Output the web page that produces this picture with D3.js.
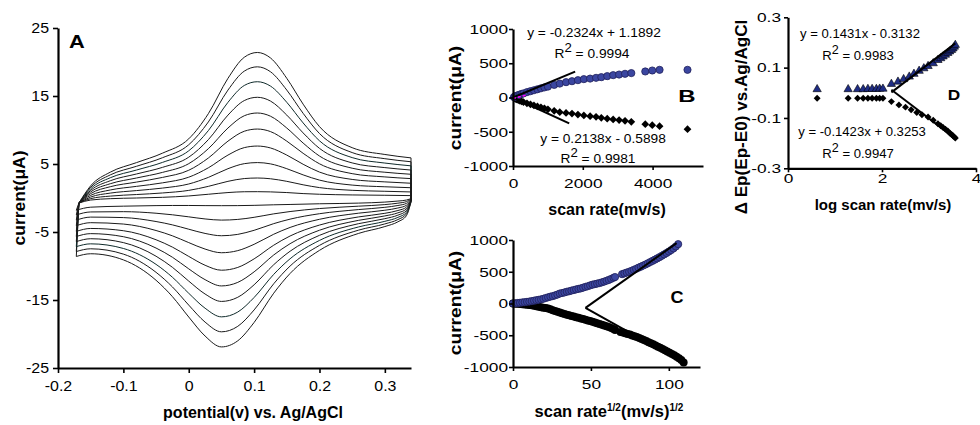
<!DOCTYPE html>
<html>
<head>
<meta charset="utf-8">
<script src="https://cdn.jsdelivr.net/npm/d3@7"></script>
<style>
body { margin: 0; background: #fff; }
svg { display: block; }
text { font-family: "Liberation Sans", Arial, sans-serif; fill: #000; }
</style>
</head>
<body>
<svg id="chart" width="980" height="425"></svg>
<script>
// ---- panel A: cyclic voltammograms (potential V, current uA) ----
const cvAnodicE = [-0.168, -0.15, -0.12, -0.08, -0.04, 0, 0.03, 0.06, 0.085, 0.105, 0.125, 0.15, 0.175, 0.2, 0.25, 0.3, 0.34];
const cvAnodic = [
	[-0.74, 1.8, 3.8, 5.2, 6.6, 8.7, 12.4, 17.6, 20.7, 21.4, 20.6, 17.6, 13.8, 10.5, 7.4, 6.4, 5.9],
	[-0.74, 1.58, 3.4, 4.66, 5.93, 7.83, 11.18, 15.87, 18.66, 19.29, 18.57, 15.87, 12.45, 9.48, 6.68, 5.78, 5.33],
	[-0.74, 1.36, 2.98, 4.11, 5.24, 6.94, 9.91, 14.07, 16.55, 17.1, 16.46, 14.07, 11.04, 8.41, 5.94, 5.14, 4.73],
	[-0.74, 1.12, 2.54, 3.53, 4.51, 6.0, 8.58, 12.19, 14.33, 14.81, 14.26, 12.19, 9.57, 7.3, 5.16, 4.47, 4.11],
	[-0.74, 0.89, 2.1, 2.94, 3.77, 5.05, 7.25, 10.29, 12.1, 12.5, 12.03, 10.29, 8.08, 6.17, 4.38, 3.79, 3.49],
	[-0.74, 0.65, 1.66, 2.34, 3.03, 4.08, 5.88, 8.36, 9.82, 10.14, 9.77, 8.36, 6.57, 5.03, 3.58, 3.1, 2.85],
	[-0.74, 0.39, 1.18, 1.71, 2.23, 3.06, 4.44, 6.31, 7.41, 7.64, 7.36, 6.31, 4.96, 3.81, 2.73, 2.37, 2.17],
	[-0.74, 0.14, 0.72, 1.09, 1.46, 2.06, 3.03, 4.31, 5.05, 5.21, 5.02, 4.31, 3.4, 2.63, 1.9, 1.65, 1.51],
	[-0.74, -0.09, 0.28, 0.51, 0.74, 1.12, 1.71, 2.45, 2.86, 2.94, 2.83, 2.45, 1.94, 1.53, 1.13, 0.99, 0.89],
	[-0.74, -0.3, -0.1, 0.0, 0.1, 0.3, 0.55, 0.8, 0.92, 0.93, 0.9, 0.8, 0.65, 0.55, 0.45, 0.4, 0.35]
];
const cvCathodicE = [0.34, 0.333, 0.32, 0.3, 0.26, 0.2, 0.155, 0.13, 0.1, 0.075, 0.05, 0.025, 0, -0.025, -0.05, -0.1, -0.15, -0.172];
const cvCathodic = [
	[-0.6, -2.6, -3.5, -4.2, -5.2, -7.7, -11.1, -14.0, -18.3, -21.0, -21.9, -20.3, -17.5, -14.5, -12.1, -9.1, -8.2, -8.6],
	[-0.55, -2.35, -3.17, -3.81, -4.72, -6.97, -10.01, -12.61, -16.46, -18.87, -19.68, -18.25, -15.75, -13.07, -10.93, -8.25, -7.47, -7.87],
	[-0.49, -2.11, -2.85, -3.43, -4.25, -6.24, -8.94, -11.23, -14.63, -16.77, -17.48, -16.21, -14.01, -11.65, -9.76, -7.42, -6.74, -7.15],
	[-0.44, -1.86, -2.52, -3.04, -3.77, -5.49, -7.83, -9.81, -12.76, -14.6, -15.21, -14.12, -12.22, -10.19, -8.56, -6.56, -5.99, -6.41],
	[-0.38, -1.61, -2.18, -2.64, -3.28, -4.74, -6.72, -8.38, -10.86, -12.41, -12.93, -12.01, -10.42, -8.71, -7.36, -5.69, -5.24, -5.66],
	[-0.33, -1.35, -1.84, -2.25, -2.78, -3.98, -5.59, -6.94, -8.95, -10.21, -10.62, -9.89, -8.59, -7.22, -6.14, -4.81, -4.48, -4.91],
	[-0.27, -1.07, -1.47, -1.8, -2.23, -3.13, -4.33, -5.33, -6.81, -7.74, -8.05, -7.51, -6.56, -5.56, -4.78, -3.83, -3.63, -4.06],
	[-0.21, -0.79, -1.1, -1.37, -1.7, -2.31, -3.11, -3.77, -4.75, -5.35, -5.55, -5.21, -4.59, -3.95, -3.46, -2.88, -2.81, -3.25],
	[-0.15, -0.53, -0.76, -0.97, -1.2, -1.55, -1.99, -2.33, -2.84, -3.15, -3.25, -3.08, -2.77, -2.47, -2.24, -2.01, -2.05, -2.49],
	[-0.1, -0.3, -0.45, -0.6, -0.75, -0.85, -0.95, -1.0, -1.08, -1.12, -1.13, -1.12, -1.1, -1.1, -1.12, -1.2, -1.35, -1.8]
];
const aTicksX = [-0.2, -0.1, 0, 0.1, 0.2, 0.3];
const aTicksY = [-25, -15, -5, 5, 15, 25];

// ---- panel B: peak current vs scan rate ----
const bRate = [25, 50, 75, 100, 150, 200, 250, 300, 400, 500, 600, 700, 800, 900, 1000, 1180, 1340, 1520, 1690, 1860, 2030, 2210, 2380, 2530, 2700, 2870, 3040, 3210, 3390, 3790, 3990, 4200, 5000];
const bOx = [6, 12, 18, 24, 34, 44, 52, 60, 78, 92, 106, 120, 134, 147, 159, 184, 203, 224, 238, 253, 268, 276, 287, 297, 312, 326, 335, 346, 356, 380, 394, 404, 404];
const bRed = [-7, -14, -20, -27, -38, -48, -57, -66, -84, -100, -116, -130, -144, -158, -173, -194, -215, -225, -235, -250, -262, -272, -282, -297, -310, -320, -330, -340, -355, -390, -405, -419, -463];
const bTrendOx = [[0, 0], [1780, 378]];
const bTrendRed = [[0, 0], [1610, -379]];
const bTrendPink = [[0, -15], [360, 32]];
const bTicksX = [0, 2000, 4000];
const bTicksY = [-1000, -500, 0, 500, 1000];

// ---- panel C: peak current vs sqrt(scan rate) ----
const cRootOx = [0, 1.5, 3, 4.5, 6, 7.5, 9, 10.5, 12, 13.5, 15, 16.5, 18, 19.5, 21, 22.5, 24, 25.5, 27, 28.5, 30, 31.5, 33, 34.5, 36, 37.5, 39, 40.5, 42, 43.5, 45, 46.5, 48, 49.5, 51, 52.5, 54, 55.5, 57, 58.5, 60, 61.5, 63, 64.5, 65.5,
	70, 71.5, 73, 74.5, 76, 77.5, 79, 80.5, 82, 83.5, 85, 86.5, 88, 89.5, 91, 92.5, 94, 95.5, 97, 98.5, 100, 101.5, 103, 104.5, 106];
const cOx = [0, 3, 8, 12, 17, 21, 26, 31, 38, 45, 52, 58, 66, 74, 87, 98, 108, 116, 128, 141, 157, 165, 174, 185, 193, 203, 212, 222, 230, 238, 250, 262, 272, 285, 297, 305, 314, 322, 333, 345, 358, 372, 388, 405, 417,
	462, 475, 488, 500, 514, 530, 546, 564, 580, 597, 614, 633, 652, 671, 690, 710, 730, 752, 773, 795, 818, 842, 868, 898, 935];
const cRootRed = [0, 1.5, 3, 4.5, 6, 7.5, 9, 10.5, 12, 13.5, 15, 16.5, 18, 19.5, 21, 22.5, 24, 25.5, 27, 28.5, 30, 31.5, 33, 34.5, 36, 37.5, 39, 40.5, 42, 43.5, 45, 46.5, 48, 49.5, 51, 52.5, 54, 55.5, 57, 58.5, 60, 61.5, 63, 64.5, 65.5,
	69, 70.5, 72, 73.5, 75, 76.5, 78, 79.5, 81, 82.5, 84, 85.5, 87, 88.5, 90, 91.5, 93, 94.5, 96, 97.5, 99, 100.5, 102, 103.5, 105, 106.5, 108, 109.5];
const cRed = [0, -2, -4, -7, -10, -14, -18, -23, -28, -34, -42, -50, -58, -65, -72, -80, -92, -105, -118, -130, -143, -155, -166, -176, -186, -196, -205, -215, -225, -235, -245, -256, -266, -277, -288, -300, -312, -322, -333, -345, -357, -370, -385, -400, -418,
	-448, -458, -468, -480, -490, -502, -515, -528, -545, -560, -575, -592, -610, -625, -642, -660, -680, -698, -716, -735, -755, -775, -795, -815, -840, -862, -888, -930];
const cTrendOx = [[46.5, -69], [105, 950]];
const cTrendRed = [[46.5, -69], [107, -900]];
const cTicksX = [0, 50, 100];
const cTicksY = [-1000, -500, 0, 500, 1000];

// ---- panel D: peak shift vs log scan rate ----
const dLogOx = [0.62, 1.28, 1.48, 1.6, 1.7, 1.79, 1.88, 1.95, 2.02, 2.2, 2.34, 2.46, 2.58, 2.68, 2.79, 2.89, 2.98, 3.09, 3.19, 3.25, 3.3, 3.35, 3.4, 3.44, 3.48, 3.51, 3.54, 3.56];
const dOx = [0.014, 0.014, 0.014, 0.014, 0.015, 0.015, 0.015, 0.016, 0.016, 0.035, 0.044, 0.054, 0.064, 0.075, 0.087, 0.097, 0.106, 0.117, 0.13, 0.137, 0.144, 0.151, 0.158, 0.164, 0.17, 0.176, 0.183, 0.19];
const dLogRed = [0.62, 1.28, 1.48, 1.6, 1.7, 1.79, 1.88, 1.95, 2.02, 2.2, 2.36, 2.5, 2.62, 2.74, 2.85, 2.98, 3.09, 3.19, 3.25, 3.3, 3.35, 3.4, 3.44, 3.48, 3.51, 3.54, 3.56];
const dRed = [-0.022, -0.022, -0.022, -0.022, -0.022, -0.022, -0.022, -0.022, -0.022, -0.035, -0.048, -0.057, -0.067, -0.078, -0.087, -0.096, -0.109, -0.123, -0.131, -0.138, -0.145, -0.152, -0.16, -0.166, -0.171, -0.176, -0.18];
const dFitOx = { slope: 0.1431, icpt: -0.3132, from: 2.2, to: 3.56 };
const dFitRed = { slope: -0.1423, icpt: 0.3253, from: 2.2, to: 3.56 };
const dTicksX = [0, 2, 4];
const dTicksY = [-0.3, -0.1, 0.1, 0.3];

const svg = d3.select("#chart");
const BLUE = "#3b46a0";

// text helper, sx stretches glyphs horizontally like the source bitmap
function put(g, str, x, y, o = {}) {
	let tr = `translate(${x},${y})`;
	if (o.rot) tr += ` rotate(${o.rot})`;
	tr += ` scale(${o.sx || 1},1)`;
	return g.append("text")
		.attr("transform", tr)
		.attr("text-anchor", o.anchor || "middle")
		.style("font-size", (o.size || 14) + "px")
		.style("font-weight", o.bold ? "bold" : "normal")
		.text(str);
}

function rsq(g, val, x, y, sx) {
	const t = g.append("text")
		.attr("transform", `translate(${x},${y}) scale(${sx},1)`)
		.attr("text-anchor", "middle")
		.style("font-size", "12.5px");
	t.append("tspan").text("R");
	t.append("tspan").attr("dy", -6).style("font-size", "12px").text("2");
	t.append("tspan").attr("dy", 6).text(" = " + val);
}

function axes(g, x, y, xt, yt, o) {
	const fmt = d => String(d);
	const ax = g.append("g")
		.attr("transform", `translate(0,${y.range()[0]})`)
		.call(d3.axisBottom(x).tickValues(xt).tickSize(o.tick).tickSizeOuter(0).tickPadding(o.xpad).tickFormat(fmt));
	const ay = g.append("g")
		.attr("transform", `translate(${x.range()[0]},0)`)
		.call(d3.axisLeft(y).tickValues(yt).tickSize(o.tick).tickSizeOuter(0).tickPadding(o.ypad).tickFormat(fmt));
	[ax, ay].forEach(a => {
		a.attr("font-size", null).attr("font-family", null);
		a.select(".domain").attr("stroke", "#000").attr("stroke-width", 2.2);
		a.selectAll(".tick line").attr("stroke", "#000").attr("stroke-width", 1.6);
		a.selectAll(".tick text").style("font-size", o.size + "px").attr("fill", "#000");
	});
	ax.selectAll(".tick text").attr("transform", `scale(${o.sx},1)`);
	ay.selectAll(".tick text")
		.attr("transform", `scale(${o.sx},1)`)
		.attr("x", -(o.tick + o.ypad) / o.sx);
}

// ================= A =================
const xA = d3.scaleLinear().domain([-0.2, 0.34]).range([58, 411]);
const yA = d3.scaleLinear().domain([-25, 25]).range([368, 28]);
const gA = svg.append("g");
const lineA = d3.line().x(d => xA(d[0])).y(d => yA(d[1])).curve(d3.curveMonotoneX);
cvAnodic.forEach((row, i) => {
	const up = cvAnodicE.map((e, j) => [e, row[j]]);
	const down = cvCathodicE.map((e, j) => [e, cvCathodic[i][j]]);
	gA.append("path")
		.attr("d", lineA(up) + lineA(down).replace(/^M/, "L") + "Z")
		.attr("fill", "none")
		.attr("stroke", i == 2 ? "#0f2a2a" : "#1a1a1a")
		.attr("stroke-width", 1);
});
axes(gA, xA, yA, aTicksX, aTicksY, { tick: 5, xpad: 8, ypad: 4, size: 14, sx: 1.14 });
put(gA, "A", 69, 48, { anchor: "start", bold: true, size: 19, sx: 1.15 });
put(gA, "current(μA)", 25, 198, { rot: -90, bold: true, size: 16, sx: 1.09 });
put(gA, "potential(v) vs. Ag/AgCl", 253, 418, { bold: true, size: 16 });

// ================= B =================
const xB = d3.scaleLinear().domain([0, 5444]).range([513, 703]);
const yB = d3.scaleLinear().domain([-1000, 1000]).range([166, 29]);
const gB = svg.append("g");
const lineB = d3.line().x(d => xB(d[0])).y(d => yB(d[1]));
gB.selectAll(null).data(bRate).join("path")
	.attr("transform", (d, i) => `translate(${xB(d)},${yB(bRed[i])}) rotate(45)`)
	.attr("d", d3.symbol(d3.symbolSquare, 30))
	.attr("fill", "#000");
gB.selectAll(null).data(bRate).join("circle")
	.attr("cx", d => xB(d))
	.attr("cy", (d, i) => yB(bOx[i]))
	.attr("r", 3.6)
	.attr("fill", BLUE)
	.attr("stroke", "#20205a")
	.attr("stroke-width", 0.8);
gB.append("path").attr("d", lineB(bTrendOx)).attr("stroke", "#000").attr("stroke-width", 2).attr("fill", "none");
gB.append("path").attr("d", lineB(bTrendRed)).attr("stroke", "#000").attr("stroke-width", 2).attr("fill", "none");
gB.append("path").attr("d", lineB(bTrendPink)).attr("stroke", "#ff00ff").attr("stroke-width", 1.5)
	.attr("stroke-dasharray", "3,2").attr("fill", "none");
axes(gB, xB, yB, bTicksX, bTicksY, { tick: 4, xpad: 8, ypad: 1, size: 13.5, sx: 1.28 });
put(gB, "y = -0.2324x + 1.1892", 594, 37, { size: 12.5, sx: 1.1 });
rsq(gB, "0.9994", 592, 58, 1.1);
put(gB, "y = 0.2138x - 0.5898", 603, 143, { size: 12.5, sx: 1.1 });
rsq(gB, "0.9981", 598, 163, 1.1);
put(gB, "B", 687, 102, { bold: true, size: 16, sx: 1.5 });
put(gB, "current(μA)", 461, 98, { rot: -90, bold: true, size: 16, sx: 1.2 });
put(gB, "scan rate(mv/s)", 607, 215, { bold: true, size: 16 });

// ================= C =================
const xC = d3.scaleLinear().domain([0, 120]).range([513, 700]);
const yC = d3.scaleLinear().domain([-1000, 1000]).range([367, 240]);
const gC = svg.append("g");
const lineC = d3.line().x(d => xC(d[0])).y(d => yC(d[1]));
gC.selectAll(null).data(cRootRed).join("circle")
	.attr("cx", d => xC(d))
	.attr("cy", (d, i) => yC(cRed[i]))
	.attr("r", 4)
	.attr("fill", "#000");
gC.selectAll(null).data(cRootOx).join("circle")
	.attr("cx", d => xC(d))
	.attr("cy", (d, i) => yC(cOx[i]))
	.attr("r", 3.6)
	.attr("fill", BLUE)
	.attr("stroke", "#20205a")
	.attr("stroke-width", 0.8);
gC.append("path").attr("d", lineC(cTrendOx)).attr("stroke", "#000").attr("stroke-width", 2).attr("fill", "none");
gC.append("path").attr("d", lineC(cTrendRed)).attr("stroke", "#000").attr("stroke-width", 2).attr("fill", "none");
axes(gC, xC, yC, cTicksX, cTicksY, { tick: 4, xpad: 8, ypad: 1, size: 13.5, sx: 1.28 });
put(gC, "C", 677, 303, { bold: true, size: 16, sx: 1.13 });
put(gC, "current(μA)", 461, 303, { rot: -90, bold: true, size: 16, sx: 1.2 });
const tC = gC.append("text").attr("transform", "translate(609,417)").attr("text-anchor", "middle")
	.style("font-size", "16.5px").style("font-weight", "bold");
tC.append("tspan").text("scan rate");
tC.append("tspan").attr("dy", -6).style("font-size", "10px").text("1/2");
tC.append("tspan").attr("dy", 6).text("(mv/s)");
tC.append("tspan").attr("dy", -6).style("font-size", "10px").text("1/2");

// ================= D =================
const xD = d3.scaleLinear().domain([0, 4]).range([788, 976]);
const yD = d3.scaleLinear().domain([-0.3, 0.3]).range([168.3, 17.3]);
const gD = svg.append("g");
const lineD = d3.line().x(d => xD(d[0])).y(d => yD(d[1]));
gD.selectAll(null).data(dLogRed).join("path")
	.attr("transform", (d, i) => `translate(${xD(d)},${yD(dRed[i])}) rotate(45)`)
	.attr("d", d3.symbol(d3.symbolSquare, 24))
	.attr("fill", "#000");
gD.selectAll(null).data(dLogOx).join("path")
	.attr("transform", (d, i) => `translate(${xD(d)},${yD(dOx[i])})`)
	.attr("d", d3.symbol(d3.symbolTriangle, 30))
	.attr("fill", "#1f2d85")
	.attr("stroke", "#000")
	.attr("stroke-width", 0.6);
[dFitOx, dFitRed].forEach(f => {
	const pts = [f.from, f.to].map(v => [v, f.slope * v + f.icpt]);
	gD.append("path").attr("d", lineD(pts)).attr("stroke", "#000").attr("stroke-width", 2).attr("fill", "none");
});
axes(gD, xD, yD, dTicksX, dTicksY, { tick: 4, xpad: 1, ypad: 3, size: 13.5, sx: 1.28 });
put(gD, "y = 0.1431x - 0.3132", 860, 38, { size: 12.5, sx: 1.05 });
rsq(gD, "0.9983", 858, 60, 1.05);
put(gD, "y = -0.1423x + 0.3253", 862, 136, { size: 12.5, sx: 1.05 });
rsq(gD, "0.9947", 858, 158, 1.05);
put(gD, "D", 954, 100, { bold: true, size: 15, sx: 1.15 });
put(gD, "Δ Ep(Ep-E0) vs.Ag/AgCl", 747, 117, { rot: -90, bold: true, size: 16, sx: 1.07 });
put(gD, "log scan rate(mv/s)", 883, 210, { bold: true, size: 15 });
</script>
</body>
</html>
